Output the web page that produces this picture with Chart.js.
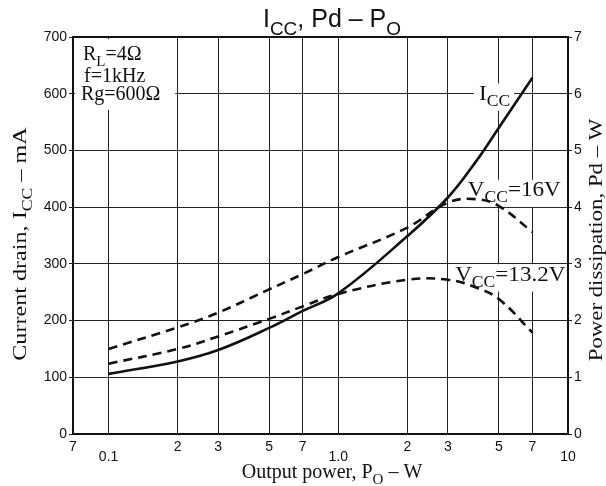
<!DOCTYPE html>
<html>
<head>
<meta charset="utf-8">
<script src="https://cdn.jsdelivr.net/npm/chart.js@4.4.1/dist/chart.umd.min.js"></script>
<style>
  body { margin: 0; background: #fff; }
  canvas { display: block; }
</style>
</head>
<body>
<canvas id="chart-icc-pd" width="606" height="486"></canvas>
<script>
// values
var outputPower = [0.1, 0.2, 0.3, 0.5, 0.7, 1, 2, 3, 4, 5, 7];
var iccCurrent = [106, 128, 148, 187, 217, 248, 349, 417, 482, 540, 628];
var pdVcc16 = [1.50, 1.88, 2.14, 2.55, 2.82, 3.12, 3.64, 4.08, 4.14, 4.02, 3.56];
var pdVcc132 = [1.24, 1.50, 1.72, 2.03, 2.25, 2.47, 2.72, 2.72, 2.58, 2.38, 1.79];

var xTickValues = [0.07, 0.1, 0.2, 0.3, 0.5, 0.7, 1, 2, 3, 5, 7, 10];
var xTickLabels = ['7', '0.1', '2', '3', '5', '7', '1.0', '2', '3', '5', '7', '10'];
var xLowLabels = ['0.1', '1.0', '10'];

var SANS = '"Liberation Sans", Arial, sans-serif';
var SERIF = '"Liberation Serif", "Times New Roman", serif';

function points(ys) {
  return outputPower.map(function (x, i) { return { x: x, y: ys[i] }; });
}

function partsWidth(ctx, parts, size, family) {
  var w = 0;
  parts.forEach(function (p) {
    ctx.font = (p[1] ? Math.round(size * 0.74) : size) + 'px ' + family;
    w += ctx.measureText(p[0]).width;
  });
  return w;
}

// draws text with subscript parts: [[text, isSub], ...]
function drawParts(ctx, parts, x, y, size, family, align) {
  var subSize = Math.round(size * 0.74);
  var total = partsWidth(ctx, parts, size, family);
  var cx = align === 'right' ? x - total : (align === 'center' ? x - total / 2 : x);
  ctx.textAlign = 'left';
  ctx.textBaseline = 'alphabetic';
  parts.forEach(function (p) {
    ctx.font = (p[1] ? subSize : size) + 'px ' + family;
    ctx.fillText(p[0], cx, p[1] ? y + size * 0.3 : y);
    cx += ctx.measureText(p[0]).width;
  });
  return total;
}

// curve label on a white patch that breaks the grid, right aligned at x
function labelBox(ctx, parts, x, y, size, stretch) {
  ctx.save();
  var w = partsWidth(ctx, parts, size, SERIF) * stretch;
  ctx.fillStyle = '#fff';
  ctx.fillRect(x - w - 5, y - size * 0.78, w + 9, size * 1.3);
  ctx.fillStyle = '#111';
  ctx.translate(x, y);
  ctx.scale(stretch, 1);
  drawParts(ctx, parts, 0, 0, size, SERIF, 'right');
  ctx.restore();
}

function verticalTitle(ctx, parts, x, y, size, stretch) {
  ctx.save();
  ctx.translate(x, y);
  ctx.rotate(-Math.PI / 2);
  ctx.scale(stretch, 1);
  drawParts(ctx, parts, 0, 0, size, SERIF, 'center');
  ctx.restore();
}

var textPlugin = {
  id: 'textPlugin',
  beforeDatasetsDraw: function (chart) {
    var ctx = chart.ctx;
    var xs = chart.scales.x, yl = chart.scales.y, yr = chart.scales.y2;
    var a = chart.chartArea;

    // test conditions, top-left
    ctx.save();
    ctx.fillStyle = '#fff';
    ctx.fillRect(a.left + 2, a.top + 2, xs.getPixelForValue(0.195) - a.left - 2, yl.getPixelForValue(575) - a.top);
    ctx.fillStyle = '#111';
    drawParts(ctx, [['R'], ['L', 1], ['=4Ω']], a.left + 10, a.top + 23, 20, SERIF, 'left');
    drawParts(ctx, [['f=1kHz']], a.left + 11, a.top + 45, 20, SERIF, 'left');
    drawParts(ctx, [['Rg=600Ω']], a.left + 8, a.top + 63, 20, SERIF, 'left');
    ctx.restore();

    labelBox(ctx, [['I'], ['CC', 1]], xs.getPixelForValue(5.6), yl.getPixelForValue(600) + 6, 21, 1.1);
    labelBox(ctx, [['V'], ['CC', 1], ['=16V']], xs.getPixelForValue(9.3), yr.getPixelForValue(4.3) + 6, 21, 1.1);
    labelBox(ctx, [['V'], ['CC', 1], ['=13.2V']], xs.getPixelForValue(9.75), yr.getPixelForValue(2.81) + 6, 21, 1.1);
  },
  afterDraw: function (chart) {
    var ctx = chart.ctx;
    var a = chart.chartArea;
    ctx.save();
    ctx.strokeStyle = '#111';
    ctx.lineWidth = 2;
    ctx.strokeRect(a.left, a.top, a.right - a.left, a.bottom - a.top);

    ctx.fillStyle = '#111';
    drawParts(ctx, [['I'], ['CC', 1], [', Pd – P'], ['O', 1]], 332, 27, 25, SANS, 'center');
    drawParts(ctx, [['Output power, P'], ['O', 1], [' – W']], 332, 478, 20, SERIF, 'center');
    verticalTitle(ctx, [['Current drain, I'], ['CC', 1], [' – mA']], 26, 244, 19, 1.27);
    verticalTitle(ctx, [['Power dissipation, Pd – W']], 602, 240, 19, 1.2);
    ctx.restore();
  }
};

var ctx = document.getElementById('chart-icc-pd').getContext('2d');
var chart = new Chart(ctx, {
  type: 'line',
  data: {
    datasets: [{
      label: 'ICC',
      data: points(iccCurrent),
      yAxisID: 'y',
      borderColor: '#111',
      borderWidth: 2.6,
      pointRadius: 0,
      tension: 0.4,
      fill: false
    }, {
      label: 'VCC=16V',
      data: points(pdVcc16),
      yAxisID: 'y2',
      borderColor: '#111',
      borderWidth: 2.6,
      borderDash: [9, 6],
      pointRadius: 0,
      tension: 0.4,
      fill: false
    }, {
      label: 'VCC=13.2V',
      data: points(pdVcc132),
      yAxisID: 'y2',
      borderColor: '#111',
      borderWidth: 2.6,
      borderDash: [9, 6],
      pointRadius: 0,
      tension: 0.4,
      fill: false
    }]
  },
  options: {
    responsive: false,
    animation: false,
    layout: { padding: { top: 37, left: 0, right: 0, bottom: 0 } },
    plugins: {
      legend: { display: false },
      title: { display: false },
      tooltip: { enabled: false }
    },
    scales: {
      x: {
        type: 'logarithmic',
        min: 0.07,
        max: 10,
        afterBuildTicks: function (scale) {
          scale.ticks = xTickValues.map(function (v) { return { value: v }; });
        },
        afterFit: function (scale) { scale.height = 52; },
        border: { display: false },
        grid: { color: '#222', lineWidth: 1, drawTicks: false },
        ticks: {
          autoSkip: false,
          maxRotation: 0,
          padding: 8,
          color: '#111',
          font: { family: SANS, size: 14, lineHeight: 0.72 },
          callback: function (value, index) {
            var lbl = xTickLabels[index];
            return xLowLabels.indexOf(lbl) >= 0 ? ['', lbl] : lbl;
          }
        }
      },
      y: {
        position: 'left',
        min: 0,
        max: 700,
        afterFit: function (scale) { scale.width = 73; },
        border: { display: false },
        grid: { color: '#222', lineWidth: 1, tickLength: 4 },
        ticks: {
          stepSize: 100,
          padding: 2,
          color: '#111',
          font: { family: SANS, size: 14 }
        }
      },
      y2: {
        position: 'right',
        min: 0,
        max: 7,
        afterFit: function (scale) { scale.width = 38; },
        border: { display: false },
        grid: { drawOnChartArea: false, color: '#222', tickLength: 4 },
        ticks: {
          stepSize: 1,
          padding: 2,
          color: '#111',
          font: { family: SANS, size: 14 }
        }
      }
    }
  },
  plugins: [textPlugin]
});
</script>
</body>
</html>
